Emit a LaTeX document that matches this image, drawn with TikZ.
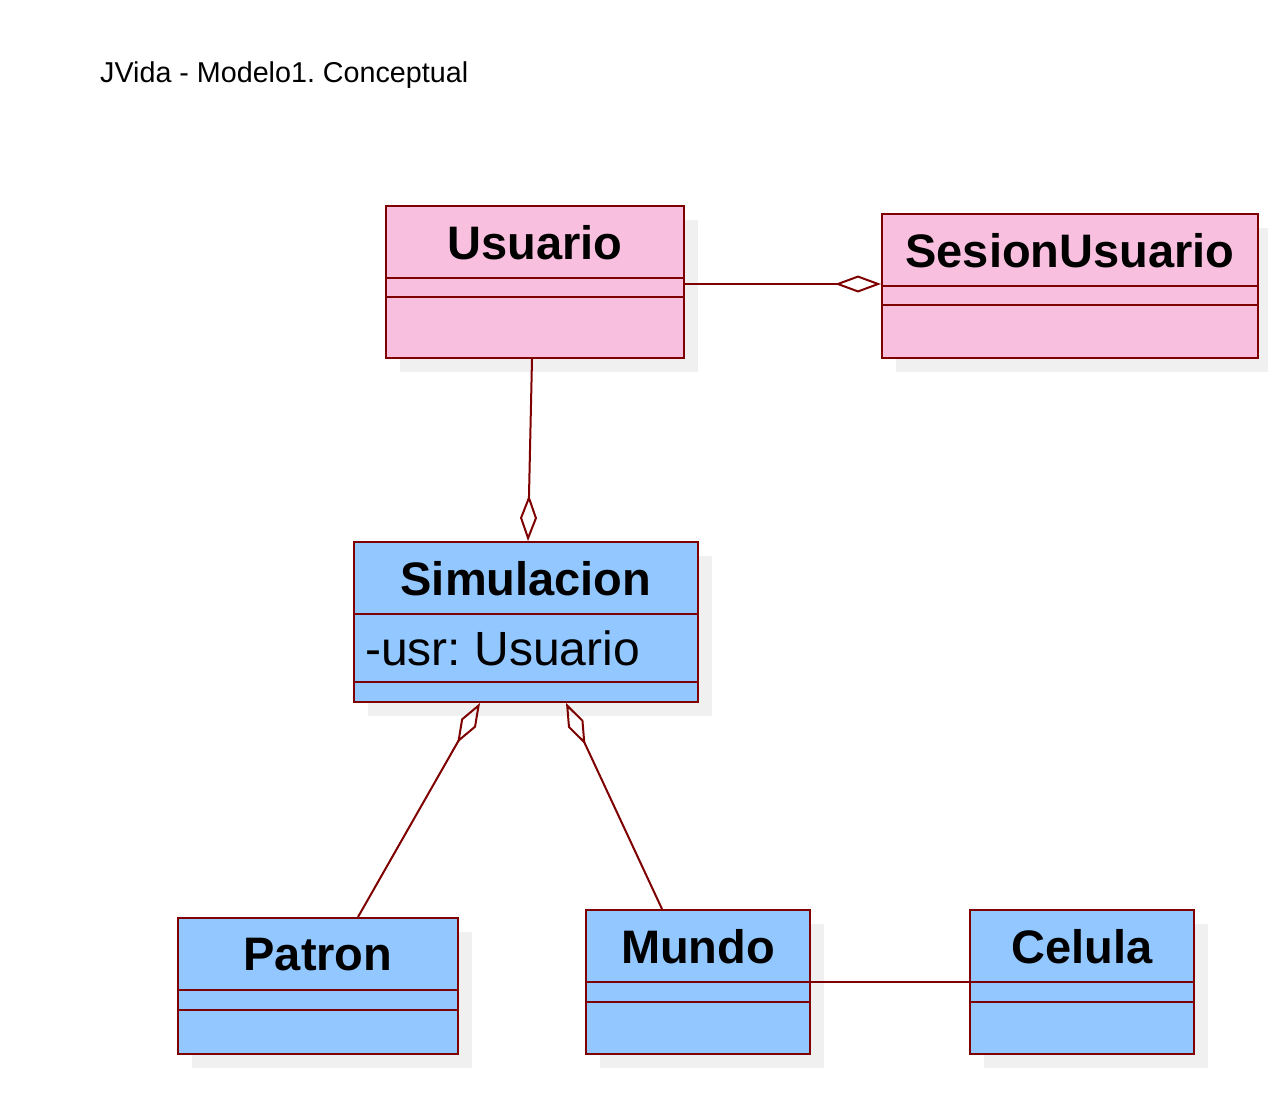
\documentclass[tikz,border=0pt]{standalone}
\usepackage{fontspec}
\setmainfont{Liberation Sans}
\usetikzlibrary{arrows.meta,calc}
\frenchspacing
\definecolor{umlborder}{HTML}{7F0000}
\definecolor{umlpink}{HTML}{F8C0DE}
\definecolor{umlblue}{HTML}{92C8FF}
\definecolor{umlshadow}{HTML}{F0F0F0}
\tikzset{
  classbox/.style={draw=umlborder, line width=2pt, inner sep=0pt, anchor=north west},
  sepline/.style={draw=umlborder, line width=2pt},
  classtitle/.style={font=\fontsize{47}{54}\selectfont\bfseries, inner sep=0pt},
  attrtext/.style={font=\fontsize{48}{54}\selectfont, inner sep=0pt, anchor=west},
  conn/.style={draw=umlborder, line width=2pt},
  aggr/.style={conn, {Diamond[open,length=46pt,width=17pt,line width=2pt]}-},
}
% \umlclass{name}{x1}{y1}{x2}{y2}{sep1}{sep2}{fill}{title}
\newcommand{\umlclass}[9]{%
  \fill[umlshadow] (#2+14,#3+14) rectangle (#4+14,#5+14);
  \node[classbox, fill=#8, minimum width=#4pt-#2pt, minimum height=#5pt-#3pt] (#1) at (#2-1,#3-1) {};
  \draw[sepline] (#2-1,#6) -- (#4-1,#6);
  \draw[sepline] (#2-1,#7) -- (#4-1,#7);
  \node[classtitle] (#1-title) at ({(#2+#4)/2},{(#3+#6)/2+1}) {#9};
}
\begin{document}
\begin{tikzpicture}[x=1pt,y=-1pt]
\useasboundingbox (0,0) rectangle (1268,1108);
\node[font=\fontsize{28.7}{34}\selectfont, inner sep=0pt, anchor=west] (diagtitle) at (100,75) {JVida - Modelo1. Conceptual};

\umlclass{usuario}{386}{206}{684}{358}{278}{297}{umlpink}{Usuario}
\umlclass{sesion}{882}{214}{1258}{358}{286}{305}{umlpink}{SesionUsuario}
\umlclass{simulacion}{354}{542}{698}{702}{614}{682}{umlblue}{Simulacion}
\node[attrtext] (usrattr) at (365,648) {-usr: Usuario};
\umlclass{patron}{178}{918}{458}{1054}{990}{1010}{umlblue}{Patron}
\umlclass{mundo}{586}{910}{810}{1054}{982}{1002}{umlblue}{Mundo}
\umlclass{celula}{970}{910}{1194}{1054}{982}{1002}{umlblue}{Celula}

\draw[aggr] ([yshift=2pt]sesion.west) -- ([yshift=-2pt]usuario.east);
\draw[aggr] ([xshift=2pt]simulacion.north) -- ([xshift=-3pt]usuario.south);
\draw[aggr] ([xshift=-46pt]simulacion.south) -- ([xshift=40pt]patron.north);
\draw[aggr] ([xshift=40pt]simulacion.south) -- ([xshift=-36pt]mundo.north);
\draw[conn] (mundo.east) -- (celula.west);
\end{tikzpicture}
\end{document}
